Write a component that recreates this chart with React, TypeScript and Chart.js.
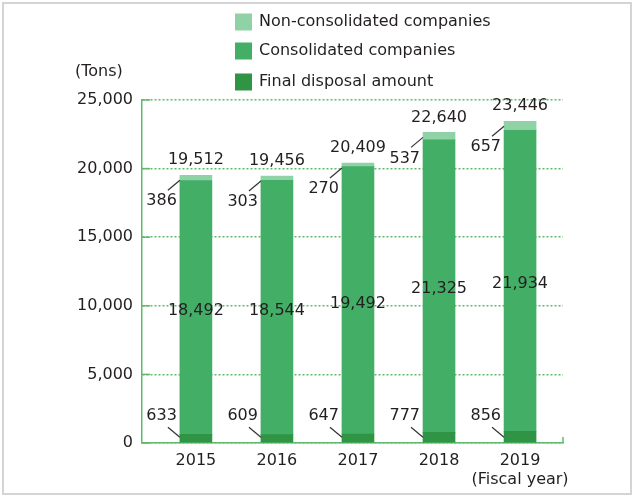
import React, { useEffect, useRef } from "react";
import { Chart, registerables } from "chart.js";

Chart.register(...registerables);

const years = ["2015", "2016", "2017", "2018", "2019"];
const finalDisposal = [633, 609, 647, 777, 856];
const consolidated = [18492, 18544, 19492, 21325, 21934];
const nonConsolidated = [386, 303, 270, 537, 657];
const totals = [19512, 19456, 20409, 22640, 23446];
const yMax = 25000;
const yStep = 5000;
const unitLabel = "(Tons)";
const fiscalLabel = "(Fiscal year)";

const COLOR_NON = "#8fd2a6";
const COLOR_CON = "#43ae66";
const COLOR_FIN = "#2f9444";
const GRID = "#5fbb6c";
const TEXT = "#231f20";
const FONT = "'DejaVu Sans', sans-serif";

const fmt = (v: number) => v.toLocaleString("en-US");

const labelPlugin = {
  id: "labelsAndLegend",
  afterDraw(chart: any) {
    const ctx = chart.ctx;
    const area = chart.chartArea;
    ctx.save();
    // solid short ticks inside the axis
    const ys = chart.scales.y;
    ctx.strokeStyle = GRID;
    ctx.lineWidth = 1.5;
    ys.ticks.forEach((t: any) => {
      const py = ys.getPixelForValue(t.value);
      ctx.beginPath();
      ctx.moveTo(area.left, py);
      ctx.lineTo(area.left + 8, py);
      ctx.stroke();
    });
    // right end tick of x axis
    ctx.beginPath();
    ctx.moveTo(area.right, area.bottom);
    ctx.lineTo(area.right, area.bottom - 6);
    ctx.stroke();

    // legend
    const legendItems = [
      { label: chart.data.datasets[2].label, color: chart.data.datasets[2].backgroundColor },
      { label: chart.data.datasets[1].label, color: chart.data.datasets[1].backgroundColor },
      { label: chart.data.datasets[0].label, color: chart.data.datasets[0].backgroundColor },
    ];
    const rowY = [22, 51, 82];
    ctx.font = `16px ${FONT}`;
    ctx.textBaseline = "middle";
    ctx.textAlign = "left";
    legendItems.forEach((it, i) => {
      ctx.fillStyle = it.color;
      ctx.fillRect(235, rowY[i] - 8.5, 17, 17);
      ctx.fillStyle = TEXT;
      ctx.fillText(it.label, 259, rowY[i]);
    });

    // unit label
    ctx.fillText(unitLabel, 75, 72);

    // data labels
    const mFin = chart.getDatasetMeta(0);
    const mCon = chart.getDatasetMeta(1);
    const mNon = chart.getDatasetMeta(2);
    ctx.strokeStyle = "#333";
    ctx.lineWidth = 1.2;
    years.forEach((_, j) => {
      const fin = mFin.data[j];
      const con = mCon.data[j];
      const non = mNon.data[j];
      const left = non.x - non.width / 2;
      const top = non.y;
      const bottom = fin.base;
      ctx.fillStyle = TEXT;
      // total
      ctx.textAlign = "center";
      ctx.fillText(fmt(totals[j]), non.x, top - 15);
      // consolidated
      ctx.fillText(fmt(consolidated[j]), con.x, (con.y + con.base) / 2 + 3);
      // non-consolidated
      ctx.textAlign = "right";
      ctx.fillText(fmt(nonConsolidated[j]), left - 3, top + 26);
      ctx.beginPath();
      ctx.moveTo(left - 12, top + 15);
      ctx.lineTo(left, top + 5);
      ctx.stroke();
      // final disposal
      ctx.fillText(fmt(finalDisposal[j]), left - 3, bottom - 26);
      ctx.beginPath();
      ctx.moveTo(left - 12, bottom - 15);
      ctx.lineTo(left, bottom - 5);
      ctx.stroke();
    });
    ctx.restore();
  },
};

export default function App() {
  const ref = useRef<HTMLCanvasElement>(null);
  useEffect(() => {
    document.body.style.margin = "0";
    const canvas = ref.current;
    if (!canvas) return;
    const toPts = (arr: number[]) => arr.map((v, i) => ({ x: i, y: v }));
    const chart = new Chart(canvas, {
      type: "bar",
      data: {
        datasets: [
          { label: "Final disposal amount", data: toPts(finalDisposal) as any, backgroundColor: COLOR_FIN, barThickness: 32 },
          { label: "Consolidated companies", data: toPts(consolidated) as any, backgroundColor: COLOR_CON, barThickness: 32 },
          { label: "Non-consolidated companies", data: toPts(nonConsolidated) as any, backgroundColor: COLOR_NON, barThickness: 32 },
        ],
      },
      options: {
        responsive: false,
        animation: false,
        devicePixelRatio: 1,
        layout: { padding: { top: 100, right: 71, left: 0, bottom: 0 } },
        plugins: { legend: { display: false }, tooltip: { enabled: false } },
        font: { family: FONT },
        scales: {
          x: {
            type: "linear",
            stacked: true,
            offset: false,
            min: -0.665,
            max: 4.53,
            afterBuildTicks: (s: any) => {
              s.ticks = years.map((_, i) => ({ value: i }));
            },
            afterFit: (s: any) => {
              s.height = 54;
            },
            grid: { display: false, drawTicks: false, offset: false },
            border: { display: true, color: GRID, width: 1.5 },
            ticks: {
              padding: 8,
              color: TEXT,
              font: { family: FONT, size: 16, lineHeight: 1.2 },
              maxRotation: 0,
              autoSkip: false,
              callback: (v: any) => {
                const i = Math.round(Number(v));
                return i === years.length - 1 ? [years[i], fiscalLabel] : years[i];
              },
            },
          },
          y: {
            stacked: true,
            min: 0,
            max: yMax,
            afterFit: (s: any) => {
              s.width = 142;
            },
            grid: { color: GRID, lineWidth: 1.5, drawTicks: false },
            border: { display: true, color: GRID, width: 1.5, dash: [2, 2] },
            ticks: {
              stepSize: yStep,
              padding: 9,
              color: TEXT,
              font: { family: FONT, size: 16 },
              callback: (v: any) => fmt(Number(v)),
            },
          },
        },
      } as any,
      plugins: [labelPlugin],
    });
    return () => chart.destroy();
  }, []);
  return (
    <div style={{ position: "relative", width: 634, height: 497, background: "#fff" }}>
      <div
        style={{
          position: "absolute",
          left: 2,
          top: 2,
          width: 626,
          height: 489,
          border: "2px solid #d4d4d4",
          pointerEvents: "none",
        }}
      />
      <canvas ref={ref} width={634} height={497} style={{ display: "block" }} />
    </div>
  );
}
